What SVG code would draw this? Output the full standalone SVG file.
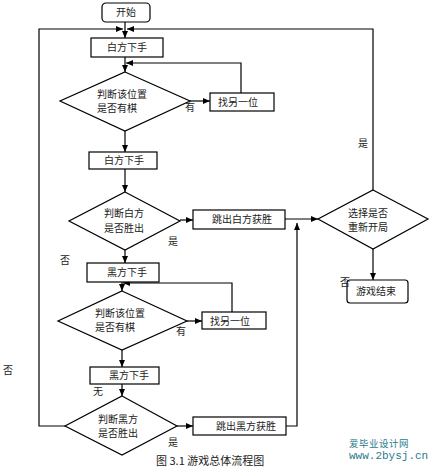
<svg xmlns="http://www.w3.org/2000/svg" width="439" height="472" viewBox="0 0 439 472">
<defs>
<marker id="ah" markerWidth="7" markerHeight="6" refX="7" refY="3" orient="auto" markerUnits="userSpaceOnUse">
<path d="M0,0 L7,3 L0,6 z" fill="#000"/>
</marker>
<style>
.n{fill:#fff;stroke:#000;stroke-width:1.2}
.t{font-family:"Noto Sans CJK SC","Liberation Sans",sans-serif;font-size:10px;fill:#222}
.c{text-anchor:middle}
.e{fill:none;stroke:#000;stroke-width:1.2;marker-end:url(#ah)}
.wm{fill:#2b7a8c}
</style>
</defs>
<rect width="439" height="472" fill="#fff"/>
<g id="connectors">
<path class="e" d="M125,22 V38"/>
<path class="e" d="M65,426 H39 V29 H123"/>
<path class="e" d="M373,190 V29 H127"/>
<path class="e" d="M125,57 V72"/>
<path class="e" d="M190,101 H210"/>
<path class="e" d="M241,93 V63 H126"/>
<path class="e" d="M125,131 V152"/>
<path class="e" d="M125,169 V192"/>
<path class="e" d="M180,220 H193"/>
<path class="e" d="M125,250 V263"/>
<path class="e" d="M285,219 H318"/>
<path class="e" d="M286,426 H297 V223"/>
<path class="e" d="M122,282 V291"/>
<path class="e" d="M187,321 H202"/>
<path class="e" d="M232,312 V283 H123"/>
<path class="e" d="M122,350 V367"/>
<path class="e" d="M122,384 V396"/>
<path class="e" d="M177,426 H193"/>
<path class="e" d="M373,249 V280"/>
</g>
<g id="start"><rect class="n" x="102" y="3" width="48" height="19" rx="4"/><text class="t c" x="126" y="16">开始</text></g>
<g id="b1"><rect class="n" x="91" y="38" width="72" height="19"/><text class="t c" x="127" y="51">白方下手</text></g>
<g id="d1"><polygon class="n" points="125,72 190,101 125,131 60,101"/><text class="t" x="97" y="98">判断该位置</text><text class="t" x="97" y="112">是否有棋</text></g>
<g id="r1"><rect class="n" x="210" y="93" width="64" height="18"/><text class="t" x="218" y="106">找另一位</text></g>
<g id="b2"><rect class="n" x="89" y="152" width="68" height="17"/><text class="t c" x="124" y="164">白方下手</text></g>
<g id="d2"><polygon class="n" points="125,192 180,221 125,250 69,221"/><text class="t c" x="124" y="217">判断白方</text><text class="t c" x="124" y="232">是否胜出</text></g>
<g id="r2"><rect class="n" x="193" y="210" width="92" height="19"/><text class="t c" x="242" y="223">跳出白方获胜</text></g>
<g id="d3"><polygon class="n" points="373,190 428,219 373,249 318,219"/><text class="t c" x="368" y="217">选择是否</text><text class="t c" x="368" y="231">重新开局</text></g>
<g id="end"><rect class="n" x="347" y="280" width="61" height="23" rx="3"/><text class="t c" x="376" y="295">游戏结束</text></g>
<g id="b3"><rect class="n" x="87" y="263" width="72" height="19"/><text class="t c" x="127" y="276">黑方下手</text></g>
<g id="d4"><polygon class="n" points="122,291 187,321 122,350 58,321"/><text class="t" x="95" y="317">判断该位置</text><text class="t" x="95" y="331">是否有棋</text></g>
<g id="r3"><rect class="n" x="202" y="312" width="64" height="17"/><text class="t" x="210" y="325">找另一位</text></g>
<g id="b4"><rect class="n" x="90" y="367" width="69" height="17"/><text class="t c" x="129" y="379">黑方下手</text></g>
<g id="d5"><polygon class="n" points="122,396 177,426 122,455 65,426"/><text class="t c" x="118" y="423">判断黑方</text><text class="t c" x="118" y="437">是否胜出</text></g>
<g id="r4"><rect class="n" x="193" y="417" width="93" height="18"/><text class="t c" x="246" y="430">跳出黑方获胜</text></g>
<g id="labels">
<text class="t c" x="190" y="111">有</text>
<text class="t c" x="173" y="245">是</text>
<text class="t c" x="65" y="264">否</text>
<text class="t c" x="363" y="147">是</text>
<text class="t c" x="345" y="286">否</text>
<text class="t c" x="181" y="335">有</text>
<text class="t c" x="98" y="395">无</text>
<text class="t c" x="173" y="446">是</text>
<text class="t c" x="8" y="374">否</text>
<text class="t" x="156" y="465" style="font-size:11px">图 3.1 游戏总体流程图</text>
</g>
<g id="watermark">
<text class="wm" x="349" y="447" style="font-family:'Noto Sans CJK SC',sans-serif;font-size:9.5px;letter-spacing:0.5px">爱毕业设计网</text>
<text class="wm" x="349" y="459" style="font-family:'Liberation Mono',monospace;font-size:11px">www.2bysj.cn</text>
</g>
</svg>
